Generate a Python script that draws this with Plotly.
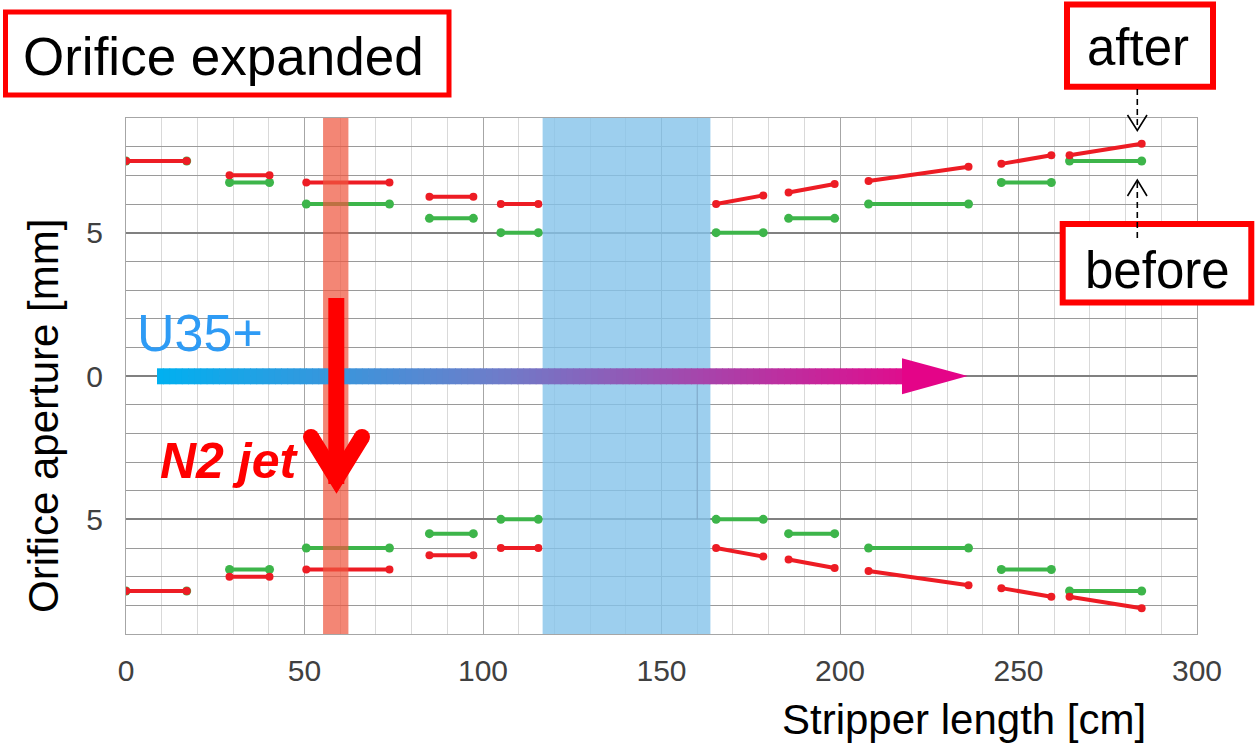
import plotly.graph_objects as go

# ---------------- data ----------------
seg_x_start = [0, 29, 50.5, 85, 105, 165.3, 185.6, 208, 245.2, 264.3]
seg_x_end = [17, 40.2, 73.8, 97.3, 115.5, 178.5, 198.5, 236, 259.2, 284.5]
before_aperture = [7.5, 6.75, 6.0, 5.5, 5.0, 5.0, 5.5, 6.0, 6.75, 7.5]
after_start = [7.5, 7.0, 6.75, 6.25, 6.0, 6.0, 6.4, 6.8, 7.4, 7.7]
after_end = [7.5, 7.0, 6.75, 6.25, 6.0, 6.3, 6.7, 7.3, 7.7, 8.1]

x_ticks = [0, 50, 100, 150, 200, 250, 300]
y_ticks = [-5, 0, 5]
y_ticktext = ["5", "0", "5"]

jet_band = (55.2, 62.3)
stripper_band = (116.7, 163.7)

RED = "#ED1C24"
GREEN = "#3DB54A"
FONT = "Liberation Sans, Arial, sans-serif"

# ---------------- figure geometry (pixels) ----------------
W, H = 1255, 750
L, R, T, B = 126, 58, 118, 116
PW, PH = W - L - R, H - T - B


def px(xp):
    return (xp - L) / PW


def py(yp):
    return (H - B - yp) / PH


def seg_xy(x0s, x1s, y0s, y1s):
    xs, ys = [], []
    for sign in (1, -1):
        for a, b, c, d in zip(x0s, x1s, y0s, y1s):
            xs += [a, b, None]
            ys += [sign * c, sign * d, None]
    return xs, ys


fig = go.Figure()
bx, by = seg_xy(seg_x_start, seg_x_end, before_aperture, before_aperture)
ax, ay = seg_xy(seg_x_start, seg_x_end, after_start, after_end)
fig.add_trace(go.Scatter(x=bx, y=by, mode="lines+markers", name="before",
                         line=dict(color=GREEN, width=4),
                         marker=dict(color=GREEN, size=9), connectgaps=False))
fig.add_trace(go.Scatter(x=ax, y=ay, mode="lines+markers", name="after",
                         line=dict(color=RED, width=4),
                         marker=dict(color=RED, size=8), connectgaps=False))

shapes = []
# blue stripper band (semi-transparent, over the grid)
shapes.append(dict(type="rect", xref="x", yref="paper", x0=stripper_band[0], x1=stripper_band[1],
                   y0=0, y1=1, fillcolor="rgb(132,195,234)", opacity=0.8,
                   line=dict(width=0), layer="above"))
# faint artifact line in blue band
shapes.append(dict(type="line", xref="x", yref="y", x0=160, x1=160, y0=-0.3, y1=-5,
                   line=dict(color="#7FA6C6", width=1), layer="above"))
# salmon jet band (above traces)
shapes.append(dict(type="rect", xref="x", yref="paper", x0=jet_band[0], x1=jet_band[1],
                   y0=0, y1=1, fillcolor="rgb(238,88,64)", opacity=0.72,
                   line=dict(width=0), layer="above"))

# gradient beam arrow
stops = [(0.0, (0, 176, 240)), (0.45, (108, 126, 202)), (1.0, (222, 14, 142))]


def grad(t):
    for (t0, c0), (t1, c1) in zip(stops[:-1], stops[1:]):
        if t <= t1:
            f = (t - t0) / (t1 - t0)
            return "rgb(%d,%d,%d)" % tuple(round(c0[i] + f * (c1[i] - c0[i])) for i in range(3))
    return "rgb(%d,%d,%d)" % stops[-1][1]


x_start, x_end = 157, 902
N = 120
for i in range(N):
    a = x_start + (x_end - x_start) * i / N
    b = x_start + (x_end - x_start) * (i + 1) / N + 0.8
    shapes.append(dict(type="rect", xref="paper", yref="paper", x0=px(a), x1=px(min(b, x_end + 0.5)),
                       y0=py(384.3), y1=py(368.3), fillcolor=grad((i + 0.5) / N),
                       line=dict(width=0), layer="above"))
shapes.append(dict(type="path", xref="paper", yref="paper",
                   path="M %f,%f L %f,%f L %f,%f Z" % (px(902), py(358.3), px(967.7), py(376),
                                                       px(902), py(394.3)),
                   fillcolor="rgb(228,4,136)", line=dict(width=0), layer="above"))

# red N2 jet arrow
shapes.append(dict(type="line", xref="paper", yref="paper", x0=px(336.3), x1=px(336.3),
                   y0=py(298), y1=py(484), line=dict(color="#FF0000", width=16), layer="above"))
shapes.append(dict(type="path", xref="paper", yref="paper",
                   path="M %f,%f L %f,%f L %f,%f" % (px(311), py(437), px(336.5), py(478.5),
                                                     px(362), py(437)),
                   line=dict(color="#FF0000", width=16), layer="above"))
for cx, cy in [(311, 437), (362, 437)]:
    shapes.append(dict(type="circle", xref="paper", yref="paper", xsizemode="pixel",
                       ysizemode="pixel", xanchor=px(cx), yanchor=py(cy), x0=-8, x1=8, y0=-8, y1=8,
                       fillcolor="#FF0000", line=dict(width=0), layer="above"))

# boxes
for (x0, y0, x1, y1, w) in [(5.5, 12, 449, 95, 5), (1067, 4.5, 1213, 86.7, 6),
                            (1062.7, 224, 1251.3, 302.5, 6)]:
    shapes.append(dict(type="rect", xref="paper", yref="paper", x0=px(x0), x1=px(x1),
                       y0=py(y1), y1=py(y0), line=dict(color="#FF0000", width=w),
                       fillcolor="white", layer="above"))

# dashed pointers
shapes.append(dict(type="line", xref="paper", yref="paper", x0=px(1137.3), x1=px(1137.3),
                   y0=py(89), y1=py(129), line=dict(color="black", width=1.6, dash="6px,4px"),
                   layer="above"))
shapes.append(dict(type="path", xref="paper", yref="paper",
                   path="M %f,%f L %f,%f L %f,%f" % (px(1127.5), py(115), px(1137.3), py(130.5),
                                                     px(1147), py(115)),
                   line=dict(color="black", width=1.6), layer="above"))
shapes.append(dict(type="line", xref="paper", yref="paper", x0=px(1137.3), x1=px(1137.3),
                   y0=py(238), y1=py(181), line=dict(color="black", width=1.6, dash="6px,4px"),
                   layer="above"))
shapes.append(dict(type="path", xref="paper", yref="paper",
                   path="M %f,%f L %f,%f L %f,%f" % (px(1127.5), py(196), px(1137.3), py(180),
                                                     px(1147), py(196)),
                   line=dict(color="black", width=1.6), layer="above"))

annotations = [
    dict(text="Orifice expanded", x=px(223), y=py(56), font=dict(size=53, color="black")),
    dict(text="after", x=px(1138), y=py(48), font=dict(size=51, color="black")),
    dict(text="before", x=px(1157), y=py(270), font=dict(size=51, color="black")),
    dict(text="U35+", x=px(200), y=py(333), font=dict(size=52, color="#2E9BF5")),
    dict(text="<b><i>N2 jet</i></b>", x=px(229), y=py(461), font=dict(size=50, color="#FF0000")),
    dict(text="Orifice aperture [mm]", x=px(43), y=py(416), textangle=-90,
         font=dict(size=42, color="black")),
    dict(text="Stripper length [cm]", x=px(964), y=py(719), font=dict(size=42, color="black")),
]
for a in annotations:
    a.update(xref="paper", yref="paper", showarrow=False, xanchor="center", yanchor="middle")
    a["font"]["family"] = FONT

fig.update_layout(
    width=W, height=H, margin=dict(l=L, r=R, t=T, b=B),
    paper_bgcolor="white", plot_bgcolor="white", showlegend=False,
    font=dict(family=FONT),
    shapes=shapes, annotations=annotations,
    xaxis=dict(range=[0, 300], tickvals=x_ticks, showgrid=True, gridcolor="#A6A6A6", gridwidth=1,
               minor=dict(dtick=10, tick0=0, showgrid=True, gridcolor="#D9D9D9", gridwidth=1),
               showline=True, linecolor="#A6A6A6", mirror=True, zeroline=False, ticks="",
               tickfont=dict(size=30, color="#404040"), ticklabelstandoff=10),
    yaxis=dict(range=[-9, 9], tickvals=y_ticks, ticktext=y_ticktext, showgrid=True,
               gridcolor="#808080", gridwidth=2,
               minor=dict(dtick=1, tick0=0, showgrid=True, gridcolor="#9A9A9A", gridwidth=1),
               showline=True, linecolor="#A6A6A6", mirror=True, zeroline=False, ticks="",
               tickfont=dict(size=30, color="#404040"), ticklabelstandoff=16),
)

fig.write_html("out.html")
